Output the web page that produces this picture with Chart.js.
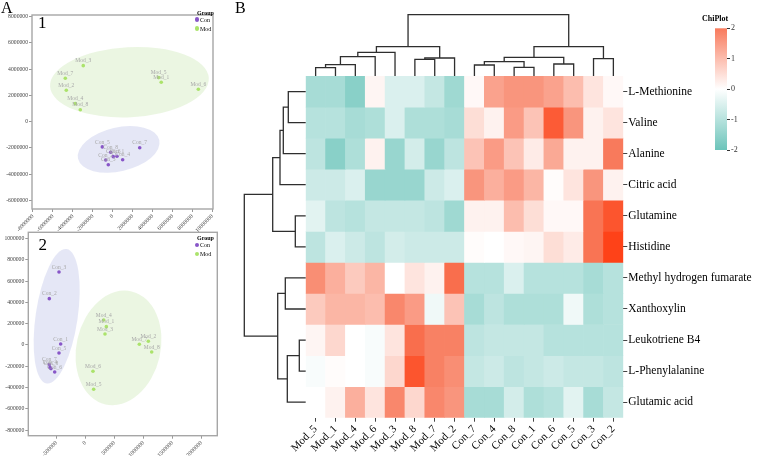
<!DOCTYPE html>
<html>
<head>
<meta charset="utf-8">
<script src="https://cdn.jsdelivr.net/npm/chart.js@4.4.1/dist/chart.umd.min.js"></script>
<style>
html, body { margin: 0; padding: 0; background: #fff; }
#page { position: relative; width: 761px; height: 459px; overflow: hidden; font-family: 'Liberation Serif', 'Times New Roman', serif; }
#page canvas { position: absolute; left: 0; top: 0; }
.lbl { position: absolute; white-space: nowrap; line-height: 1; color: #000; }
.dot { position: absolute; width: 4.5px; height: 4.5px; border-radius: 50%; }
</style>
</head>
<body>
<div id="page">
  <canvas id="pca1" width="761" height="459"></canvas>
  <canvas id="pca2" width="761" height="459"></canvas>
  <canvas id="heat" width="761" height="459"></canvas>
  <canvas id="dendTop" width="761" height="459"></canvas>
  <canvas id="dendLeft" width="761" height="459"></canvas>
  <canvas id="scaleBar" width="761" height="459"></canvas>

  <div class="lbl" style="left:1px;top:0px;font-size:16px;">A</div>
  <div class="lbl" style="left:235px;top:0px;font-size:16px;">B</div>
  <div class="lbl" style="left:38px;top:14px;font-size:17px;">1</div>
  <div class="lbl" style="left:38.5px;top:236px;font-size:17px;">2</div>

  <div class="lbl" style="left:197px;top:10px;font-size:6px;font-weight:bold;">Group</div>
  <div class="dot" style="left:194.5px;top:17px;background:#8856c8;"></div>
  <div class="lbl" style="left:200px;top:16.5px;font-size:6px;">Con</div>
  <div class="dot" style="left:194.5px;top:26px;background:#abe36b;"></div>
  <div class="lbl" style="left:200px;top:25.5px;font-size:6px;">Mod</div>

  <div class="lbl" style="left:197px;top:234.5px;font-size:6px;font-weight:bold;">Group</div>
  <div class="dot" style="left:194.5px;top:242.5px;background:#8856c8;"></div>
  <div class="lbl" style="left:200px;top:242px;font-size:6px;">Con</div>
  <div class="dot" style="left:194.5px;top:251.5px;background:#abe36b;"></div>
  <div class="lbl" style="left:200px;top:251px;font-size:6px;">Mod</div>

  <div class="lbl" style="left:702px;top:15px;font-size:8px;font-weight:bold;">ChiPlot</div>
</div>

<script>
// ---- Panel A, plot 1 (score plot) ----
const pca1ConNames = ['Con_5', 'Con_8', 'Con_1', 'Con_6', 'Con_4', 'Con_2', 'Con_3', 'Con_7'];
const pca1ConX = [-1050000, -210000, 420000, 50000, 990000, -710000, -450000, 2700000];
const pca1ConY = [-1920000, -2330000, -2630000, -2660000, -2890000, -2910000, -3270000, -1980000];
const pca1ModNames = ['Mod_3', 'Mod_7', 'Mod_2', 'Mod_4', 'Mod_8', 'Mod_5', 'Mod_1', 'Mod_6'];
const pca1ModX = [-2960000, -4760000, -4660000, -3760000, -3260000, 4600000, 4860000, 8580000];
const pca1ModY = [4260000, 3300000, 2390000, 1370000, 910000, 3350000, 3000000, 2460000];
const pca1XTicks = [-8000000, -6000000, -4000000, -2000000, 0, 2000000, 4000000, 6000000, 8000000, 10000000];
const pca1YTicks = [-6000000, -4000000, -2000000, 0, 2000000, 4000000, 6000000, 8000000];
// ellipses: centre, radii (axis units), rotation (deg)
const pca1Ellipses = [
    { cx: 1670000, cy: 3000000, rx: 7970000, ry: 2660000, rot: -3, color: 'rgba(176, 220, 140, 0.25)' },
    { cx: 590000, cy: -2110000, rx: 4180000, ry: 1670000, rot: -13, color: 'rgba(150, 160, 220, 0.25)' }
];

// ---- Panel A, plot 2 ----
const pca2ConNames = ['Con_3', 'Con_2', 'Con_1', 'Con_5', 'Con_7', 'Con_4', 'Con_8', 'Con_6'];
const pca2ConX = [-457000, -624000, -428000, -457000, -624000, -612000, -595000, -531000];
const pca2ConY = [685000, 435000, 9000, -75000, -185000, -213000, -222000, -254000];
const pca2ModNames = ['Mod_4', 'Mod_1', 'Mod_3', 'Mod_2', 'Mod_7', 'Mod_8', 'Mod_6', 'Mod_5'];
const pca2ModX = [314000, 359000, 336000, 1083000, 928000, 1141000, 129000, 141000];
const pca2ModY = [235000, 172000, 103000, 35000, 7000, -66000, -247000, -416000];
const pca2XTicks = [-500000, 0, 500000, 1000000, 1500000, 2000000];
const pca2YTicks = [-800000, -600000, -400000, -200000, 0, 200000, 400000, 600000, 800000, 1000000];
const pca2Ellipses = [
    { cx: -497000, cy: 269000, rx: 362000, ry: 638000, rot: 8.4, color: 'rgba(150, 160, 220, 0.25)' },
    { cx: 569000, cy: -28000, rx: 724000, ry: 545000, rot: 13, color: 'rgba(176, 220, 140, 0.25)' }
];

// ---- Panel B, heatmap ----
const heatCols = ['Mod_5', 'Mod_1', 'Mod_4', 'Mod_6', 'Mod_3', 'Mod_8', 'Mod_7', 'Mod_2',
                  'Con_7', 'Con_4', 'Con_8', 'Con_1', 'Con_6', 'Con_5', 'Con_3', 'Con_2'];
const heatRows = ['L-Methionine', 'Valine', 'Alanine', 'Citric acid', 'Glutamine', 'Histidine',
                  'Methyl hydrogen fumarate', 'Xanthoxylin', 'Leukotriene B4', 'L-Phenylalanine', 'Glutamic acid'];
const heatValues = [
    [-1.2, -1.2, -1.6, 0.15, -0.5, -0.5, -0.8, -1.3, 0.1, 1.4, 1.6, 1.6, 1.4, 1.0, 0.4, 0.1],
    [-1.0, -1.0, -1.2, -1.1, -0.5, -1.1, -1.1, -1.2, 0.5, 0.2, 1.5, 0.9, 2.5, 1.6, 0.2, 0.4],
    [-0.9, -1.6, -1.1, 0.2, -1.4, -0.6, -1.4, -0.9, 0.9, 1.5, 0.9, 0.3, 1.3, 0.2, 0.2, 2.0],
    [-0.7, -0.7, -0.5, -1.4, -1.4, -1.4, -0.7, -0.5, 1.6, 1.2, 1.5, 1.1, 0.05, 0.4, 1.6, 0.2],
    [-0.4, -0.9, -1.0, -0.8, -0.8, -0.8, -0.9, -1.3, 0.2, 0.2, 1.0, 0.5, 0.1, 0.1, 2.1, 2.6],
    [-0.9, -0.5, -0.7, -0.9, -0.6, -0.7, -0.7, -0.7, 0.05, 0.0, 0.1, 0.15, 0.5, 0.3, 2.1, 2.9],
    [1.7, 1.2, 0.8, 1.1, 0.0, 0.4, 0.2, 2.2, -1.0, -1.0, -0.5, -1.0, -1.0, -1.0, -1.2, -1.0],
    [0.8, 1.1, 1.1, 1.0, 1.8, 1.5, -0.2, 0.9, -1.2, -0.9, -1.1, -1.1, -1.1, -0.2, -1.1, -1.0],
    [0.15, 0.6, 0.0, -0.1, 0.4, 2.2, 1.9, 1.9, -0.9, -0.8, -0.8, -0.8, -1.0, -1.0, -1.0, -1.0],
    [-0.1, 0.05, 0.0, -0.1, 0.6, 2.6, 1.9, 1.7, -0.8, -0.7, -0.9, -0.8, -0.7, -0.8, -0.8, -0.9],
    [0.0, 0.2, 1.2, 0.4, 1.8, 0.6, 1.8, 1.6, -1.2, -1.2, -0.6, -1.1, -1.0, -0.4, -1.2, -0.8]
];
// dendrograms: [childA, childB, height]; leaves are 0..n-1 in display order
const colMerges = [
    [0, 1, 8.3], [16, 2, 11.3], [17, 3, 19.3], [18, 4, 23.7],
    [5, 6, 16.7], [20, 7, 18.0], [19, 21, 29.3],
    [8, 9, 11.0], [10, 11, 8.7], [23, 24, 14.3], [12, 13, 12.0], [25, 26, 18.7],
    [14, 15, 17.3], [27, 28, 29.3], [22, 29, 61.3]
];
const rowMerges = [
    [0, 1, 17.4], [11, 2, 22.4], [12, 3, 25.7], [4, 5, 10.4], [13, 14, 33.0],
    [6, 7, 20.4], [8, 9, 6.4], [17, 10, 18.4], [16, 18, 28.0], [15, 19, 61.4]
];
const scaleTicks = [-2, -1, 0, 1, 2];

Chart.defaults.font.family = "'Liberation Serif', 'Times New Roman', serif";
Chart.defaults.animation = false;
Chart.defaults.events = [];
Chart.defaults.plugins.legend.display = false;
Chart.defaults.plugins.tooltip.enabled = false;

const W = 761, H = 459;

// colour scale used by the heatmap and the scale bar
const teal = [108, 196, 186], white = [255, 255, 255], salmon = [248, 122, 92], hot = [255, 60, 16];
function mix(a, b, t) {
    return 'rgb(' + a.map((c, i) => Math.round(c + (b[i] - c) * t)).join(',') + ')';
}
function cellColor(v) {
    if (v < 0) return mix(white, teal, Math.min(-v / 2, 1));
    if (v <= 2) return mix(white, salmon, v / 2);
    return mix(salmon, hot, Math.min(v - 2, 1));
}

// layout padding so that the chart area lands on a given box
function padFor(box, yAxisW, xAxisH, yRight) {
    return {
        left: box.l - (yRight ? 0 : yAxisW),
        right: W - box.r - (yRight ? yAxisW : 0),
        top: box.t,
        bottom: H - box.b - xAxisH
    };
}

function makeEllipsePlugin(items) {
    return {
        id: 'ellipses',
        beforeDatasetsDraw(chart) {
            const { ctx, scales: { x, y } } = chart;
            items.forEach(e => {
                const cx = x.getPixelForValue(e.cx), cy = y.getPixelForValue(e.cy);
                const rx = Math.abs(x.getPixelForValue(e.cx + e.rx) - cx);
                const ry = Math.abs(y.getPixelForValue(e.cy + e.ry) - cy);
                ctx.save();
                ctx.beginPath();
                ctx.ellipse(cx, cy, rx, ry, e.rot * Math.PI / 180, 0, Math.PI * 2);
                ctx.fillStyle = e.color;
                ctx.fill();
                ctx.restore();
            });
        }
    };
}

const pointNamePlugin = {
    id: 'pointNames',
    afterDatasetsDraw(chart) {
        const ctx = chart.ctx;
        ctx.save();
        ctx.font = "5.5px 'Liberation Serif', serif";
        ctx.fillStyle = '#a8a8a8';
        ctx.textAlign = 'center';
        ctx.textBaseline = 'bottom';
        chart.data.datasets.forEach((ds, i) => {
            chart.getDatasetMeta(i).data.forEach((pt, j) => {
                ctx.fillText(ds.names[j], pt.x, pt.y - 2);
            });
        });
        ctx.restore();
    }
};

const framePlugin = {
    id: 'frame',
    afterDatasetsDraw(chart) {
        const { ctx, chartArea: a } = chart;
        ctx.save();
        ctx.strokeStyle = '#a6a6a6';
        ctx.lineWidth = 1.4;
        ctx.strokeRect(a.left, a.top, a.right - a.left, a.bottom - a.top);
        ctx.restore();
    }
};

function pairs(xs, ys) {
    return xs.map((x, i) => ({ x: x, y: ys[i] }));
}

function scatterPlot(id, box, xr, yr, xTicks, yTicks, conX, conY, conNames, modX, modY, modNames, ellipses, xAxisH) {
    const tickFont = { size: 5.7 };
    new Chart(document.getElementById(id), {
        type: 'scatter',
        data: {
            datasets: [
                { label: 'Con', data: pairs(conX, conY), names: conNames, backgroundColor: '#8856c8', borderWidth: 0, pointRadius: 1.8 },
                { label: 'Mod', data: pairs(modX, modY), names: modNames, backgroundColor: '#abe36b', borderWidth: 0, pointRadius: 1.8 }
            ]
        },
        options: {
            responsive: false,
            layout: { padding: padFor(box, 30, xAxisH, false) },
            scales: {
                x: {
                    type: 'linear', min: xr[0], max: xr[1],
                    afterBuildTicks: s => { s.ticks = xTicks.map(v => ({ value: v })); },
                    ticks: { minRotation: 45, maxRotation: 45, autoSkip: false,
                             font: tickFont, color: '#444', padding: 1, callback: v => String(v) },
                    grid: { drawOnChartArea: false, tickLength: 3, color: '#999' },
                    border: { display: false },
                    afterFit: s => { s.height = xAxisH; }
                },
                y: {
                    type: 'linear', min: yr[0], max: yr[1],
                    afterBuildTicks: s => { s.ticks = yTicks.map(v => ({ value: v })); },
                    ticks: { font: tickFont, color: '#444', padding: 1, callback: v => String(v) },
                    grid: { drawOnChartArea: false, tickLength: 3, color: '#999' },
                    border: { display: false },
                    afterFit: s => { s.width = 30; }
                }
            }
        },
        plugins: [makeEllipsePlugin(ellipses), pointNamePlugin, framePlugin]
    });
}

scatterPlot('pca1', { l: 32, t: 15, r: 213, b: 209 }, [-8100000, 10050000], [-6640000, 8110000], pca1XTicks, pca1YTicks,
    pca1ConX, pca1ConY, pca1ConNames, pca1ModX, pca1ModY, pca1ModNames, pca1Ellipses, 28);
scatterPlot('pca2', { l: 28.3, t: 232.3, r: 217.3, b: 435.7 }, [-986000, 2272000], [-852000, 1058000], pca2XTicks, pca2YTicks,
    pca2ConX, pca2ConY, pca2ConNames, pca2ModX, pca2ModY, pca2ModNames, pca2Ellipses, 20);

// ---- heatmap ----
const heatBox = { l: 305.7, t: 76, r: 623.3, b: 417.7 };
new Chart(document.getElementById('heat'), {
    type: 'bar',
    data: {
        labels: heatCols,
        datasets: heatRows.map((name, r) => ({
            label: name,
            data: heatCols.map(() => [r, r + 1]),
            backgroundColor: heatValues[r].map(cellColor),
            borderWidth: 0,
            grouped: false,
            barPercentage: 1,
            categoryPercentage: 1
        }))
    },
    options: {
        responsive: false,
        layout: { padding: padFor(heatBox, 135, 41, true) },
        scales: {
            x: {
                type: 'category',
                grid: { offset: false, drawOnChartArea: false, tickLength: 4, color: '#444' },
                border: { display: false },
                ticks: { minRotation: 45, maxRotation: 45, autoSkip: false, font: { size: 11 }, color: '#000', padding: 1 },
                afterFit: s => { s.height = 41; }
            },
            y: {
                type: 'linear', min: 0, max: heatRows.length, reverse: true, position: 'right',
                afterBuildTicks: s => { s.ticks = heatRows.map((_, i) => ({ value: i + 0.5 })); },
                ticks: { font: { size: 11.5 }, color: '#000', padding: 1, callback: (v, i) => heatRows[i] },
                grid: { drawOnChartArea: false, tickLength: 4, color: '#444' },
                border: { display: false },
                afterFit: s => { s.width = 135; }
            }
        }
    }
});

// ---- dendrograms ----
function dendroSegments(nLeaves, merges) {
    const pos = [], hgt = [];
    for (let i = 0; i < nLeaves; i++) { pos.push(i + 0.5); hgt.push(0); }
    return merges.map(([a, b, h]) => {
        const seg = [[pos[a], hgt[a]], [pos[a], h], [pos[b], h], [pos[b], hgt[b]]];
        pos.push((pos[a] + pos[b]) / 2);
        hgt.push(h);
        return seg;
    });
}

function dendroChart(id, segs, horizontal, box, maxH, nLeaves) {
    new Chart(document.getElementById(id), {
        type: 'scatter',
        data: {
            datasets: segs.map(seg => ({
                data: seg.map(([p, h]) => horizontal ? { x: h, y: p } : { x: p, y: h }),
                showLine: true,
                borderColor: '#2e2e2e',
                borderWidth: 1.3,
                pointRadius: 0,
                clip: false
            }))
        },
        options: {
            responsive: false,
            layout: { padding: padFor(box, 0, 0, false) },
            scales: horizontal ? {
                x: { type: 'linear', min: 0, max: maxH, reverse: true, display: false },
                y: { type: 'linear', min: 0, max: nLeaves, reverse: true, display: false }
            } : {
                x: { type: 'linear', min: 0, max: nLeaves, display: false },
                y: { type: 'linear', min: 0, max: maxH, display: false }
            }
        }
    });
}

dendroChart('dendTop', dendroSegments(heatCols.length, colMerges), false,
    { l: heatBox.l, r: heatBox.r, t: 14.7, b: heatBox.t }, 61.3, heatCols.length);
dendroChart('dendLeft', dendroSegments(heatRows.length, rowMerges), true,
    { l: 244.3, r: heatBox.l, t: heatBox.t, b: heatBox.b }, 61.4, heatRows.length);

// ---- colour scale bar ----
const barBox = { l: 715, r: 727, t: 28.3, b: 150 };
new Chart(document.getElementById('scaleBar'), {
    type: 'scatter',
    data: { datasets: [] },
    options: {
        responsive: false,
        layout: { padding: padFor(barBox, 20, 0, true) },
        scales: {
            x: { type: 'linear', min: 0, max: 1, display: false },
            y: {
                type: 'linear', min: scaleTicks[0], max: scaleTicks[scaleTicks.length - 1], position: 'right',
                afterBuildTicks: s => { s.ticks = scaleTicks.map(v => ({ value: v })); },
                ticks: { font: { size: 8 }, color: '#333', padding: 1, callback: v => String(v) },
                grid: { drawOnChartArea: false, tickLength: 3, color: '#333' },
                border: { display: false },
                afterFit: s => { s.width = 20; }
            }
        }
    },
    plugins: [{
        id: 'gradientFill',
        beforeDatasetsDraw(chart) {
            const { ctx, chartArea: a, scales: { y } } = chart;
            const g = ctx.createLinearGradient(0, a.top, 0, a.bottom);
            scaleTicks.slice().reverse().forEach(v => {
                g.addColorStop((y.getPixelForValue(v) - a.top) / (a.bottom - a.top), cellColor(v));
            });
            ctx.save();
            ctx.fillStyle = g;
            ctx.fillRect(a.left, a.top, a.right - a.left, a.bottom - a.top);
            ctx.restore();
        }
    }]
});
</script>
</body>
</html>
